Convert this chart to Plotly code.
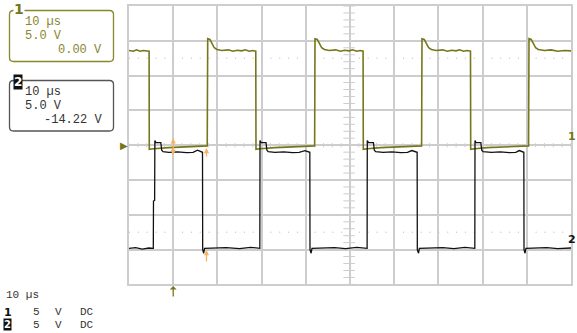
import numpy as np
import plotly.graph_objects as go

W, H = 577, 333

# Channel 1 (olive): time in microseconds, voltage in volts (5 V/div, offset 0.00 V)
ch1_time = [-10.0, -9.0, -8.3, -7.5, -6.8, -6.1, -5.45,
            -5.41, -4.5, -1.0, 3.0, 7.7,
            7.81, 8.3, 8.8, 9.3, 9.9, 11.0, 12.5, 13.5, 14.5, 15.5, 16.3, 17.2, 18.0, 18.68,
            18.73, 19.6, 23.0, 27.0, 32.0,
            32.08, 32.6, 33.1, 33.6, 34.2, 35.3, 36.8, 37.8, 38.8, 39.8, 40.6, 41.5, 42.3, 42.96,
            43.01, 43.9, 47.0, 51.0, 56.2,
            56.29, 56.8, 57.3, 57.8, 58.4, 59.5, 61.0, 62.0, 63.0, 64.0, 64.8, 65.7, 66.5, 67.26,
            67.31, 68.2, 71.0, 75.0, 80.4,
            80.50, 81.0, 81.5, 82.0, 82.6, 84.0, 85.5, 87.0, 88.5, 90.0]
ch1_volt = [13.6, 13.5, 13.7, 13.5, 13.6, 13.5, 13.5,
            -0.6, -0.5, -0.35, -0.25, -0.1,
            15.3, 15.2, 14.6, 14.0, 13.75, 13.6, 13.7, 13.5, 13.65, 13.55, 13.7, 13.5, 13.6, 13.5,
            -0.6, -0.5, -0.35, -0.25, -0.1,
            15.3, 15.2, 14.6, 14.0, 13.75, 13.6, 13.7, 13.5, 13.65, 13.55, 13.7, 13.5, 13.6, 13.5,
            -0.6, -0.5, -0.35, -0.25, -0.1,
            15.3, 15.2, 14.6, 14.0, 13.75, 13.6, 13.7, 13.5, 13.65, 13.55, 13.7, 13.5, 13.6, 13.5,
            -0.6, -0.5, -0.35, -0.25, -0.1,
            15.3, 15.2, 14.6, 14.0, 13.75, 13.6, 13.7, 13.5, 13.6, 13.55]

# Channel 2 (black): 5 V/div, offset -14.22 V
ch2_time = [-10.0, -8.5, -7.0, -5.5, -4.5,
            -4.46, -4.2, -4.15, -3.9, -2.8, -2.6, -2.3, -1.0, 1.0, 3.0, 4.5, 5.5, 6.2, 6.63,
            6.67, 6.9, 7.1, 9.0, 12.0, 15.0, 17.5, 19.6,
            19.64, 19.9, 21.0, 21.2, 21.5, 23.0, 25.0, 27.0, 28.5, 29.8, 30.4, 30.91,
            30.95, 31.2, 31.4, 33.5, 36.5, 39.0, 41.5, 43.87,
            43.91, 44.2, 45.3, 45.5, 45.8, 47.5, 49.5, 51.5, 53.0, 54.0, 54.7, 55.19,
            55.23, 55.5, 55.7, 58.0, 61.0, 63.5, 66.0, 68.24,
            68.28, 68.5, 69.6, 69.8, 70.1, 72.0, 74.0, 76.0, 77.5, 78.3, 78.9, 79.33,
            79.37, 79.6, 79.8, 82.0, 84.5, 87.0, 90.0]
ch2_volt = [-0.6, -0.5, -0.7, -0.55, -0.6,
            6.2, 6.3, 14.9, 14.6, 14.6, 13.5, 13.3, 13.2, 13.25, 13.15, 13.2, 13.5, 13.3, 13.2,
            -0.8, -1.3, -0.6, -0.6, -0.5, -0.65, -0.45, -0.6,
            14.9, 14.6, 14.6, 13.5, 13.3, 13.2, 13.25, 13.15, 13.2, 13.45, 13.3, 13.2,
            -0.8, -1.3, -0.6, -0.6, -0.5, -0.65, -0.45, -0.6,
            14.9, 14.6, 14.6, 13.5, 13.3, 13.2, 13.25, 13.15, 13.2, 13.45, 13.3, 13.2,
            -0.8, -1.3, -0.6, -0.6, -0.5, -0.65, -0.45, -0.6,
            14.9, 14.6, 14.6, 13.5, 13.3, 13.2, 13.25, 13.15, 13.2, 13.45, 13.3, 13.2,
            -0.8, -1.3, -0.6, -0.6, -0.5, -0.65, -0.55]

# channel settings
time_per_div = 10.0      # us
volts_per_div = [5.0, 5.0]
offsets = [0.00, -14.22]
n_xdiv, n_ydiv = 10, 8
t_start = -10.0          # trigger one division from the left

# cursor / marker positions
cursor_t = [0.0, 7.53]
ch1_cursor_v = [(1.2, -1.4), (-1.85, -0.4)]
ch2_cursor_v = [(-2.7, -0.84)]

box1_lines = ["10 µs", "5.0 V", "0.00 V"]
box2_lines = ["10 µs", "5.0 V", "-14.22 V"]
footer_time = "10 µs"
footer_rows = [("1", "5", "V", "DC"), ("2", "5", "V", "DC")]

# ---------------- styling ----------------
OLIVE = "#77761a"
OLIVE_TXT = "#88862e"
GRID = "#cdcdcd"
ORANGE = "#f6b463"
DARK = "#333333"
MONO = "Liberation Mono, DejaVu Sans Mono, monospace"

def px(x):
    return x / W

def py(y):
    return 1 - y / H

X0, X1, Y0, Y1 = 129, 571, 6, 284.4

t_end = t_start + n_xdiv * time_per_div
half1 = n_ydiv / 2 * volts_per_div[0]
half2 = n_ydiv / 2 * volts_per_div[1]
c2 = -offsets[1]
r1 = [offsets[0] - half1, offsets[0] + half1]
r2 = [c2 - half2, c2 + half2]

fig = go.Figure()

# graticule minor ticks on the centre lines
tmid = t_start + n_xdiv / 2 * time_per_div
tick_x, tick_y = [], []
for t in np.arange(t_start, t_end + 1e-9, time_per_div / 5):
    tick_x += [t, t, None]
    tick_y += [-0.3, 0.3, None]
vx, vy = [], []
for v in np.arange(r1[0], r1[1] + 1e-9, volts_per_div[0] / 5):
    vx += [tmid - 1.5, tmid + 1.1, None]
    vy += [v, v, None]
fig.add_trace(go.Scatter(x=tick_x + vx, y=tick_y + vy, mode="lines",
                         line=dict(color=GRID, width=1), hoverinfo="skip",
                         showlegend=False))

fig.add_trace(go.Scatter(x=ch1_time, y=ch1_volt, mode="lines", name="1",
                         line=dict(color=OLIVE, width=1.6), showlegend=False))
fig.add_trace(go.Scatter(x=ch2_time, y=ch2_volt, mode="lines", name="2", yaxis="y2",
                         line=dict(color="#111111", width=1.3), showlegend=False))

shapes = []
# dotted 2.5-division lines
for v in (2.5 * volts_per_div[0], -2.5 * volts_per_div[0]):
    shapes.append(dict(type="line", xref="x", yref="y", x0=t_start, x1=t_end, y0=v, y1=v,
                       line=dict(color="#b5b5b5", width=1, dash="1px,7.84px"), layer="below"))

def rrect(x0, y0, x1, y1, r):
    return (f"M {px(x0 + r)} {py(y0)} L {px(x1 - r)} {py(y0)} Q {px(x1)} {py(y0)} {px(x1)} {py(y0 + r)} "
            f"L {px(x1)} {py(y1 - r)} Q {px(x1)} {py(y1)} {px(x1 - r)} {py(y1)} "
            f"L {px(x0 + r)} {py(y1)} Q {px(x0)} {py(y1)} {px(x0)} {py(y1 - r)} "
            f"L {px(x0)} {py(y0 + r)} Q {px(x0)} {py(y0)} {px(x0 + r)} {py(y0)} Z")

shapes.append(dict(type="path", xref="paper", yref="paper", path=rrect(9.5, 10.5, 113.5, 61.5, 4),
                   line=dict(color=OLIVE_TXT, width=1.3)))
shapes.append(dict(type="path", xref="paper", yref="paper", path=rrect(9.5, 80.5, 113.5, 131, 4),
                   line=dict(color="#555555", width=1.3)))

ann = []
def text(x, y, s, color=DARK, size=12, xanchor="left", bold=False, bg=None, font=MONO):
    ann.append(dict(x=px(x), y=py(y), xref="paper", yref="paper", text=f"<b>{s}</b>" if bold else s,
                    showarrow=False, xanchor=xanchor, yanchor="middle",
                    font=dict(family=font, size=size, color=color),
                    bgcolor=bg, borderpad=0))

# box 1
text(24, 22, box1_lines[0], OLIVE_TXT)
text(24, 36, box1_lines[1], OLIVE_TXT)
text(103, 50, box1_lines[2], OLIVE_TXT, xanchor="right")
text(12.5, 9, "1", OLIVE, size=14, bold=True, bg="white", font="DejaVu Sans")
# box 2
text(24, 92, box2_lines[0])
text(24, 106, box2_lines[1])
text(103, 120, box2_lines[2], xanchor="right")
text(12.5, 82, "2", "white", size=12, bold=True, bg="#111111", font="DejaVu Sans")

# footer
text(5, 295, footer_time, DARK, size=11)
for i, (ch, vd, unit, cpl) in enumerate(footer_rows):
    yy = 312 + 12.5 * i
    if i == 0:
        text(3, yy, ch, "#111111", size=11, bold=True, font="DejaVu Sans")
    else:
        text(3, yy, ch, "white", size=10, bold=True, bg="#111111", font="DejaVu Sans")
    text(32, yy, vd, DARK, size=11)
    text(54, yy, unit, DARK, size=11)
    text(79, yy, cpl, DARK, size=11)

# ground markers
text(119, 145, "▶", OLIVE, size=10, font="DejaVu Sans")
text(577, 136, "1", OLIVE, size=11, bold=True, font="DejaVu Sans", xanchor="right")
text(577, 239, "2", "#111111", size=11, bold=True, font="DejaVu Sans", xanchor="right")

# cursors
ann.append(dict(x=cursor_t[0], y=ch1_cursor_v[0][1], ax=cursor_t[0], ay=ch1_cursor_v[0][0],
                xref="x", yref="y", axref="x", ayref="y", text="", showarrow=True,
                arrowhead=2, arrowsize=0.8, arrowwidth=1.3, arrowcolor=ORANGE, arrowside="end+start"))
ann.append(dict(x=cursor_t[1], y=ch1_cursor_v[1][1], ax=cursor_t[1], ay=ch1_cursor_v[1][0],
                xref="x", yref="y", axref="x", ayref="y", text="", showarrow=True,
                arrowhead=2, arrowsize=0.8, arrowwidth=1.3, arrowcolor=ORANGE))
ann.append(dict(x=cursor_t[1], y=ch2_cursor_v[0][1], ax=cursor_t[1], ay=ch2_cursor_v[0][0],
                xref="x", yref="y2", axref="x", ayref="y2", text="", showarrow=True,
                arrowhead=2, arrowsize=0.8, arrowwidth=1.3, arrowcolor=ORANGE))
# trigger position
ann.append(dict(x=cursor_t[0], y=py(286), xref="x", yref="paper", ax=0, ay=12, text="",
                showarrow=True, arrowhead=1, arrowsize=0.9, arrowwidth=1.3, arrowcolor=OLIVE))

fig.update_layout(
    width=W, height=H, margin=dict(l=0, r=0, t=0, b=0),
    paper_bgcolor="white", plot_bgcolor="white",
    showlegend=False, shapes=shapes, annotations=ann,
    xaxis=dict(domain=[px(X0), px(X1)], range=[t_start, t_end], dtick=time_per_div, tick0=t_start,
               showgrid=True, gridcolor=GRID, gridwidth=1.5, zeroline=False,
               showline=True, mirror=True, linecolor=GRID, linewidth=1.5,
               showticklabels=False, ticks=""),
    yaxis=dict(domain=[py(Y1), py(Y0)], range=r1, dtick=volts_per_div[0], tick0=0,
               showgrid=True, gridcolor=GRID, gridwidth=1.5, zeroline=False,
               showline=True, mirror=True, linecolor=GRID, linewidth=1.5,
               showticklabels=False, ticks=""),
    yaxis2=dict(overlaying="y", range=r2, visible=False, showgrid=False, zeroline=False),
)

fig.write_html("out.html", config={"displayModeBar": False},
               post_script="document.body.style.margin='0';document.body.style.overflow='hidden';")
